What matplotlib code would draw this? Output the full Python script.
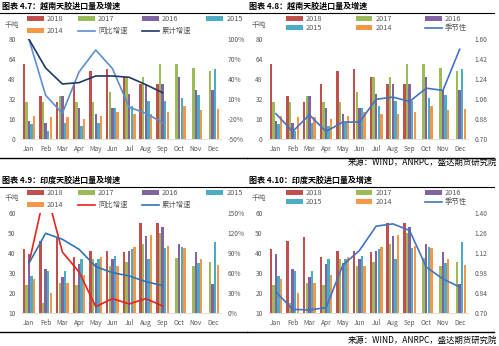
import matplotlib
matplotlib.use('Agg')
import matplotlib.pyplot as plt
import numpy as np
from matplotlib.lines import Line2D

plt.rcParams['font.family'] = ['Noto Sans CJK SC', 'DejaVu Sans']

# ======================== 数据 ==============================
months = ['Jan', 'Feb', 'Mar', 'Apr', 'May', 'Jun', 'Jul', 'Aug', 'Sep', 'Oct', 'Nov', 'Dec']
years = ['2018', '2017', '2016', '2015', '2014']
nan = np.nan

# 越南天胶进口量 (千吨)
vn_2018 = [60, 35, 30, 44, 55, 56, 50, 44.6, 44.6, nan, nan, nan]
vn_2017 = [30, 30, 35, 30, 30, 38, 50, 50, 60, 60, 57, 55]
vn_2016 = [14.5, 13, 35, 25, 20, 25, 36.5, 44.6, 44.6, 49.5, 39.6, 39.6]
vn_2015 = [12, 7, 13, 11, 13, 25, 26.5, 30.5, 30.5, 33.4, 35.6, 56.5]
vn_2014 = [19, 17.5, 17.5, 16, 18.5, 22, 20.6, 20.6, 22, 26.5, 23.5, 24.6]
vn_yoy = [1.00, 0.16, -0.11, 0.51, 0.84, 0.56, -0.02, -0.11, -0.25]
vn_cum = [1.00, 0.57, 0.33, 0.35, 0.45, 0.45, 0.43, 0.32, 0.20]
vn_season = [0.93, 0.77, 0.92, 0.77, 0.855, 0.855, 1.06, 1.08, 1.04, 1.16, 1.14, 1.51]

# 印度天胶进口量 (千吨)
in_2018 = [42, 46, 48, 38, 41, 41, 40.5, 55.3, 55.3, nan, nan, nan]
in_2017 = [24, 15, 25, 24, 37, 33.5, 35.5, 44.5, 50, 37.8, 33.8, 35.8]
in_2016 = [39.5, 32, 28, 34.5, 35, 37, 41, 48.8, 53.3, 44.5, 40.8, 24.7]
in_2015 = [28.7, 31, 31, 37, 37, 38.5, 42, 37, 42.5, 43.3, 35, 45.8]
in_2014 = [27, 20, 25, 29, 38, 33.5, 43, 49.2, 43.7, 42.5, 37.2, 34.2]
in_yoy = [0.75, 1.87, 0.92, 0.62, 0.10, 0.22, 0.14, 0.22, 0.11]
in_cum = [0.75, 1.20, 1.11, 0.96, 0.70, 0.61, 0.56, 0.475, 0.415]
in_season = [0.85, 0.728, 0.723, 0.74, 1.036, 1.14, 1.31, 1.326, 1.28, 1.024, 0.94, 0.885]

colors = ['#C0504D', '#9BBB59', '#8064A2', '#4BACC6', '#F79646']
source = '来源：WIND，ANRPC，盛达期货研究院'

W, H = 499, 346
fig = plt.figure(figsize=(W / 100, H / 100), dpi=100)
x = np.arange(12)
tick_color = '#595959'


def fx(p):
    return p / W


def fy(p):
    return 1 - p / H


def hline(x0, x1, y, lw=0.8):
    fig.add_artist(Line2D([fx(x0), fx(x1)], [fy(y), fy(y)], color='black', lw=lw))


def panel(dx, dy, title, bars, lim, ticks, rlim, rticks, rfmt, lines, wide_legend):
    ax = fig.add_axes([fx(20.6 + dx), fy(139.3 + dy), fx(200.4), 100 / H])
    handles = []
    for i, vals in enumerate(bars):
        b = ax.bar(x + (i - 2) * 0.155, vals, width=0.145, color=colors[i], label=years[i])
        handles.append(b)
    ax.set_xlim(-0.5, 11.5)
    ax.set_ylim(*lim)
    ax.set_yticks(ticks)
    ax.set_xticks(x)
    ax.set_xticklabels(months)
    ax2 = ax.twinx()
    for vals, c, lab in lines:
        l, = ax2.plot(np.arange(len(vals)), vals, color=c, lw=1.2, label=lab)
        handles.append(l)
    ax2.set_ylim(*rlim)
    ax2.set_yticks(rticks)
    ax2.set_yticklabels([rfmt(v) for v in rticks])
    for a in (ax, ax2):
        for s in a.spines.values():
            s.set_visible(False)
        a.tick_params(length=0, labelsize=4.8, labelcolor=tick_color)
    ax.spines['bottom'].set_visible(True)
    ax.spines['bottom'].set_color('#D9D9D9')
    ax.spines['bottom'].set_linewidth(0.6)
    ax.tick_params(axis='y', pad=3.5)
    ax.tick_params(axis='x', pad=4)
    ax2.tick_params(axis='y', pad=5)

    # 标题与分隔线
    fig.text(fx(dx + 2), fy(dy + 6.5), title, fontsize=5.8, fontweight='bold', va='center', ha='left')
    hline(dx, dx + 247, dy + 12.5)
    hline(dx, dx + 247, dy + 157.5, lw=1.0)
    fig.text(fx(dx + 5), fy(dy + 24.5), '千吨', fontsize=5.2, color=tick_color, va='center')

    labels = [h.get_label() for h in handles]
    if wide_legend:
        order = [0, 4, 1, 5, 2, 6, 3]
        leg = fig.legend([handles[i] for i in order], [labels[i] for i in order],
                         loc='upper left', bbox_to_anchor=(fx(dx + 27), fy(dy + 15)), ncol=4,
                         frameon=False, fontsize=5.3, handlelength=2.3, handleheight=0.55,
                         handletextpad=0.4, columnspacing=2.0, labelspacing=0.55,
                         borderaxespad=0, borderpad=0)
    else:
        order = [0, 3, 1, 4, 2, 5]
        leg = fig.legend([handles[i] for i in order], [labels[i] for i in order],
                         loc='upper left', bbox_to_anchor=(fx(dx + 39), fy(dy + 15)), ncol=3,
                         frameon=False, fontsize=5.3, handlelength=2.3, handleheight=0.55,
                         handletextpad=0.4, columnspacing=4.5, labelspacing=0.15,
                         borderaxespad=0, borderpad=0)
    for t in leg.get_texts():
        t.set_color(tick_color)
    return ax


pct = lambda v: '{:.0f}%'.format(v * 100)
dec = lambda v: '{:.2f}'.format(v)

vn_bars = [vn_2018, vn_2017, vn_2016, vn_2015, vn_2014]
in_bars = [in_2018, in_2017, in_2016, in_2015, in_2014]

panel(0, 0, '图表 4.7：越南天胶进口量及增速', vn_bars, (0, 80), np.arange(0, 81, 16),
      (-0.5, 1.0), np.arange(-0.5, 1.01, 0.3), pct,
      [(vn_yoy, '#5B8FD0', '同比增速'), (vn_cum, '#203864', '累计增速')], True)
panel(247, 0, '图表 4.8：越南天胶进口量及增速', vn_bars, (0, 80), np.arange(0, 81, 16),
      (0.70, 1.60), np.linspace(0.70, 1.60, 6), dec,
      [(vn_season, '#4472C4', '季节性')], False)
panel(0, 174, '图表 4.9：印度天胶进口量及增速', in_bars, (10, 60), np.arange(10, 61, 10),
      (0, 1.5), np.arange(0, 1.51, 0.3), pct,
      [(in_yoy, '#E8231F', '同比增速'), (in_cum, '#2E75B6', '累计增速')], True)
panel(247, 174, '图表 4.10：印度天胶进口量及增速', in_bars, (10, 60), np.arange(10, 61, 10),
      (0.70, 1.40), np.linspace(0.70, 1.40, 6), dec,
      [(in_season, '#4472C4', '季节性')], False)

fig.text(fx(497), fy(162.5), source, fontsize=6, ha='right', va='center', style='italic')
fig.text(fx(497), fy(340.5), source, fontsize=6, ha='right', va='center', style='italic')

fig.savefig('out.png', dpi=100)
